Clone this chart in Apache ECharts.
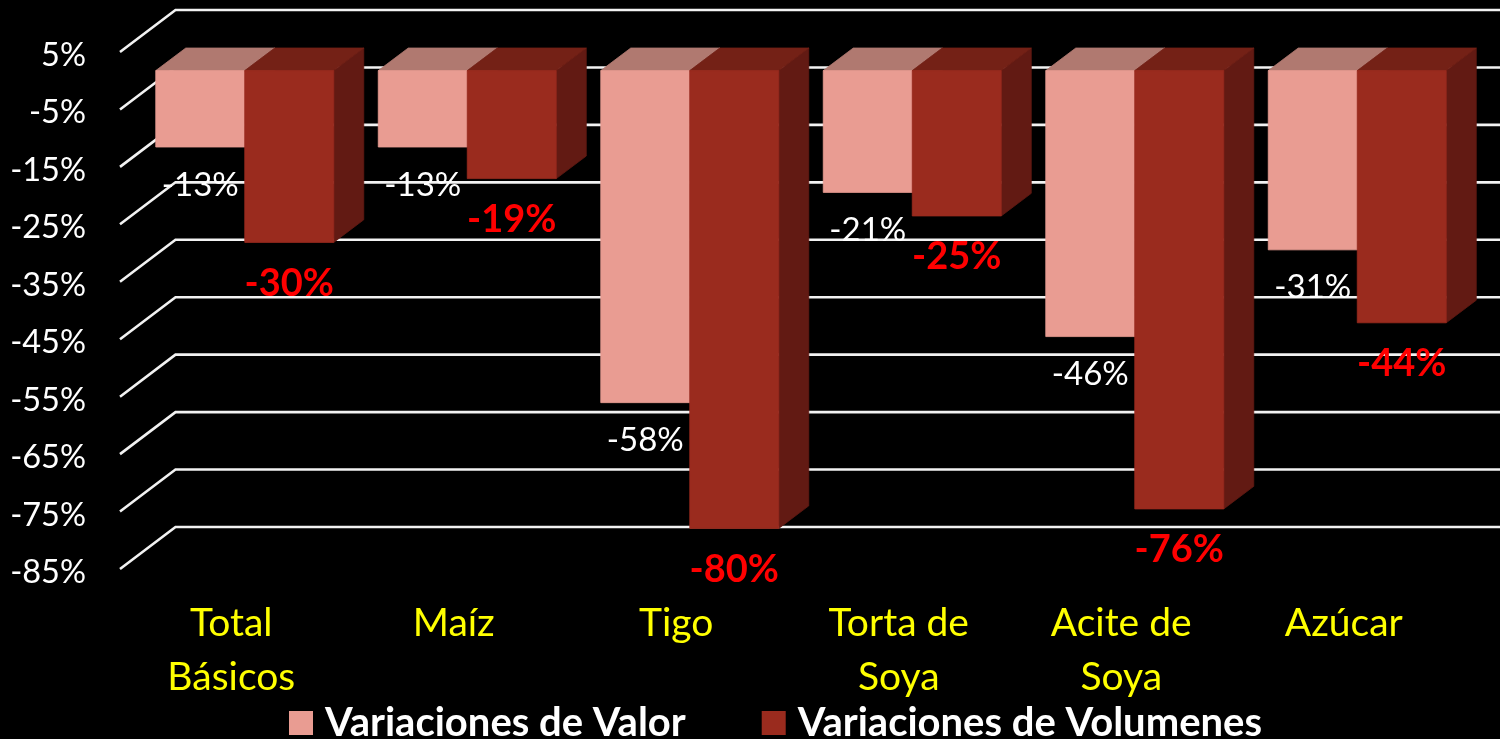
<!DOCTYPE html>
<html>
<head>
<meta charset="utf-8">
<style>html,body{margin:0;padding:0;background:#000;overflow:hidden}#c{width:1500px;height:739px}</style>
<script src="https://cdn.jsdelivr.net/npm/echarts@6/dist/echarts.min.js"></script>
</head>
<body>
<div id="c"></div>
<script>
const categories = ['Total\nBásicos', 'Maíz', 'Tigo', 'Torta de\nSoya', 'Acite de\nSoya', 'Azúcar'];
const valor = [-13.3, -13.3, -57.8, -21.2, -46.3, -31.2];
const volumenes = [-29.9, -18.8, -79.7, -25.3, -76.3, -43.9];
const tickValues = [5, -5, -15, -25, -35, -45, -55, -65, -75, -85];

const FONT = 'Lato';
const chart = echarts.init(document.getElementById('c'), null, {renderer: 'canvas'});

function solid(color) {
  return {fill: color, stroke: color, lineWidth: 0.8};
}

function barRenderer(side, colors, labelStyle, labelGap) {
  return function (params, api) {
    const i = api.value(0), v = api.value(1);
    const band = api.size([1, 0])[0];
    const w = band * 0.4;
    const dx = 13.5, dy = -10.1, ox = 30, oy = -22.6;
    const cx = api.coord([i, 0])[0] + dx;
    const y0 = api.coord([i, 0])[1] + dy;
    const y1 = api.coord([i, v])[1] + dy;
    const x0 = side === 0 ? cx - w : cx;
    const x1 = x0 + w;
    return {
      type: 'group',
      children: [
        {type: 'polygon', shape: {points: [[x1, y0], [x1 + ox, y0 + oy], [x1 + ox, y1 + oy], [x1, y1]]}, style: solid(colors.side)},
        {type: 'polygon', shape: {points: [[x0, y0], [x0 + ox, y0 + oy], [x1 + ox, y0 + oy], [x1, y0]]}, style: solid(colors.top)},
        {type: 'rect', shape: {x: x0, y: y0, width: w, height: y1 - y0}, style: solid(colors.front)},
        {type: 'text', z2: 10, style: Object.assign({
          x: (x0 + x1) / 2, y: y1 + labelGap,
          text: Math.round(v) + '%', align: 'center', verticalAlign: 'middle'
        }, labelStyle)}
      ]
    };
  };
}

function gridRenderer(params, api) {
  const v = api.value(1);
  const y = api.coord([0, v])[1];
  const cs = params.coordSys;
  const ox = 55.5, oy = -42;
  return {
    type: 'polyline',
    shape: {points: [[cs.x, y], [cs.x + ox, y + oy], [cs.x + cs.width + ox, y + oy]]},
    style: {stroke: '#f2f2f2', lineWidth: 2.6, fill: null}
  };
}

chart.setOption({
  backgroundColor: '#000000',
  animation: false,
  grid: {left: 120, top: 52, width: 1335, height: 517, containLabel: false},
  legend: {
    left: 284, top: 698, icon: 'rect', itemWidth: 24, itemHeight: 24, itemGap: 76,
    data: ['Variaciones de Valor', 'Variaciones de Volumenes'],
    selectedMode: false,
    textStyle: {color: '#ffffff', fontFamily: FONT, fontWeight: 'bold', fontSize: 40, padding: [0, 0, 0, 7]}
  },
  xAxis: {
    type: 'category', data: categories,
    axisLine: {show: false}, axisTick: {show: false}, splitLine: {show: false},
    axisLabel: {interval: 0, color: '#ffff00', fontFamily: FONT, fontSize: 39, lineHeight: 54, margin: 27}
  },
  yAxis: {
    type: 'value', min: -85, max: 5,
    axisLine: {show: false}, axisTick: {show: false}, splitLine: {show: false},
    axisLabel: {customValues: tickValues, color: '#ffffff', fontFamily: FONT, fontSize: 32.5, margin: 34,
      rich: {t: {color: '#ffffff', fontFamily: FONT, fontSize: 32.5, padding: [7, 0, 0, 0]}},
      formatter: function (v) { return '{t|' + v + '%}'; }}
  },
  series: [
    {type: 'custom', name: 'grid', silent: true, z: 1, renderItem: gridRenderer,
     data: tickValues.map(function (v) { return [0, v]; }), encode: {x: 0, y: 1}},
    {type: 'custom', name: 'Variaciones de Valor', z: 2, itemStyle: {color: '#E99C92'},
     renderItem: barRenderer(0, {front: '#E99C92', top: '#B07970', side: '#8a5a52'},
       {fill: '#ffffff', fontFamily: FONT, fontSize: 33}, 38),
     data: valor.map(function (v, i) { return [i, v]; }), encode: {x: 0, y: 1}},
    {type: 'custom', name: 'Variaciones de Volumenes', z: 3, itemStyle: {color: '#9A2B1E'},
     renderItem: barRenderer(1, {front: '#9A2B1E', top: '#742116', side: '#621A13'},
       {fill: '#ff0000', fontFamily: FONT, fontSize: 38, fontWeight: 'bold'}, 41),
     data: volumenes.map(function (v, i) { return [i, v]; }), encode: {x: 0, y: 1}}
  ]
});
</script>
</body>
</html>
